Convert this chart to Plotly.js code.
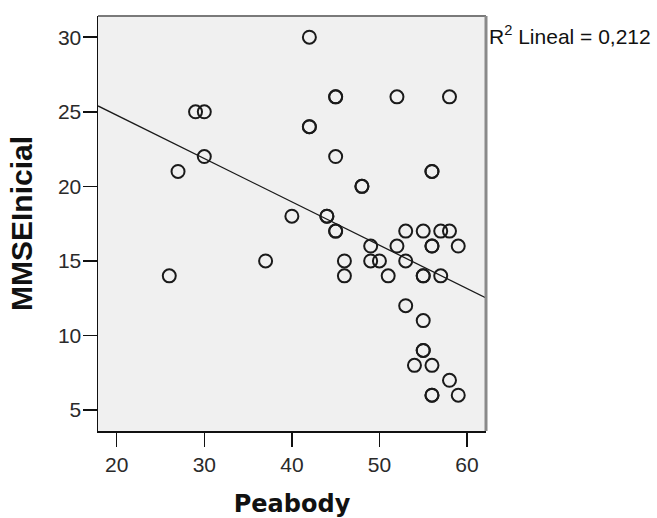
<!DOCTYPE html>
<html>
<head>
<meta charset="utf-8">
<script src="https://cdn.plot.ly/plotly-3.0.1.min.js"></script>
<style>html,body{margin:0;padding:0;background:#fff;}#chart{width:657px;height:518px;}</style>
</head>
<body>
<div id="chart"></div>
<script>
// Peabody (x) and MMSEInicial (y) values
const peabody = [26, 27, 29, 30, 30, 37, 40, 42, 42, 42, 44, 44, 45, 45, 45, 45, 45, 46, 46, 48, 48,
                 49, 49, 50, 51, 52, 52, 53, 53, 53, 54, 55, 55, 55, 55, 55, 55, 56, 56, 56, 56, 56, 56, 56,
                 57, 57, 58, 58, 58, 59, 59];
const mmse    = [14, 21, 25, 25, 22, 15, 18, 30, 24, 24, 18, 18, 26, 26, 22, 17, 17, 15, 14, 20, 20,
                 16, 15, 15, 14, 26, 16, 17, 15, 12,  8, 17, 14, 11,  9,  9, 14, 21, 21, 16,  8,  6,  6, 16,
                 17, 14, 26, 17,  7, 16,  6];
// linear fit line
const fitIntercept = 30.58;
const fitSlope = -0.2905;
const fitLabel = "R<sup>2</sup> Lineal = 0,212";
const xTicks = [20, 30, 40, 50, 60];
const yTicks = [5, 10, 15, 20, 25, 30];
const xRange = [17.86, 62.17];
const yRange = [3.6, 31.42];

const fitX = [xRange[0], xRange[1]];
const fitY = fitX.map(v => fitIntercept + fitSlope * v);

const data = [
  {
    x: fitX, y: fitY, type: 'scatter', mode: 'lines',
    line: {color: '#1a1a1a', width: 1.3}, hoverinfo: 'skip', showlegend: false
  },
  {
    x: peabody, y: mmse, type: 'scatter', mode: 'markers',
    marker: {symbol: 'circle-open', size: 13, color: '#1a1a1a', line: {width: 2, color: '#1a1a1a'}},
    showlegend: false
  }
];

const layout = {
  width: 657, height: 518,
  margin: {l: 98, r: 171, t: 16, b: 87},
  paper_bgcolor: '#ffffff',
  plot_bgcolor: '#f0f0f0',
  font: {family: 'Liberation Sans, Arial, sans-serif', color: '#222'},
  xaxis: {
    range: xRange, tickvals: xTicks, ticktext: xTicks.map(String),
    showgrid: false, zeroline: false,
    showline: true, linecolor: '#111', linewidth: 1.5,
    ticks: 'outside', ticklen: 14, tickwidth: 1.5, tickcolor: '#111',
    tickfont: {size: 21, color: '#2a2a2a'},
    title: {text: 'Peabody', font: {family: 'DejaVu Sans, sans-serif', size: 24, color: '#111', weight: 'bold'}, standoff: 22}
  },
  yaxis: {
    range: yRange, tickvals: yTicks, ticktext: yTicks.map(String),
    showgrid: false, zeroline: false,
    showline: true, linecolor: '#111', linewidth: 1.5,
    ticks: 'outside', ticklen: 14, tickwidth: 1.5, tickcolor: '#111',
    ticklabelstandoff: -3,
    tickfont: {size: 21, color: '#2a2a2a'},
    title: {text: 'MMSEInicial', font: {family: 'Liberation Sans, Arial, sans-serif', size: 30, color: '#111', weight: 'bold'}, standoff: 16}
  },
  shapes: [
    {type: 'line', xref: 'paper', yref: 'paper', x0: 0, x1: 1, y0: 1, y1: 1, line: {color: '#7a7a7a', width: 2}},
    {type: 'line', xref: 'paper', yref: 'paper', x0: 1, x1: 1, y0: 0, y1: 1, line: {color: '#8a8a8a', width: 3}}
  ],
  annotations: [
    {xref: 'paper', yref: 'paper', x: 1.002, y: 1.0, xanchor: 'left', yanchor: 'top', yshift: -4,
     text: fitLabel, showarrow: false, font: {size: 21, color: '#111'}}
  ]
};

Plotly.newPlot('chart', data, layout, {displayModeBar: false, staticPlot: true});
</script>
</body>
</html>
